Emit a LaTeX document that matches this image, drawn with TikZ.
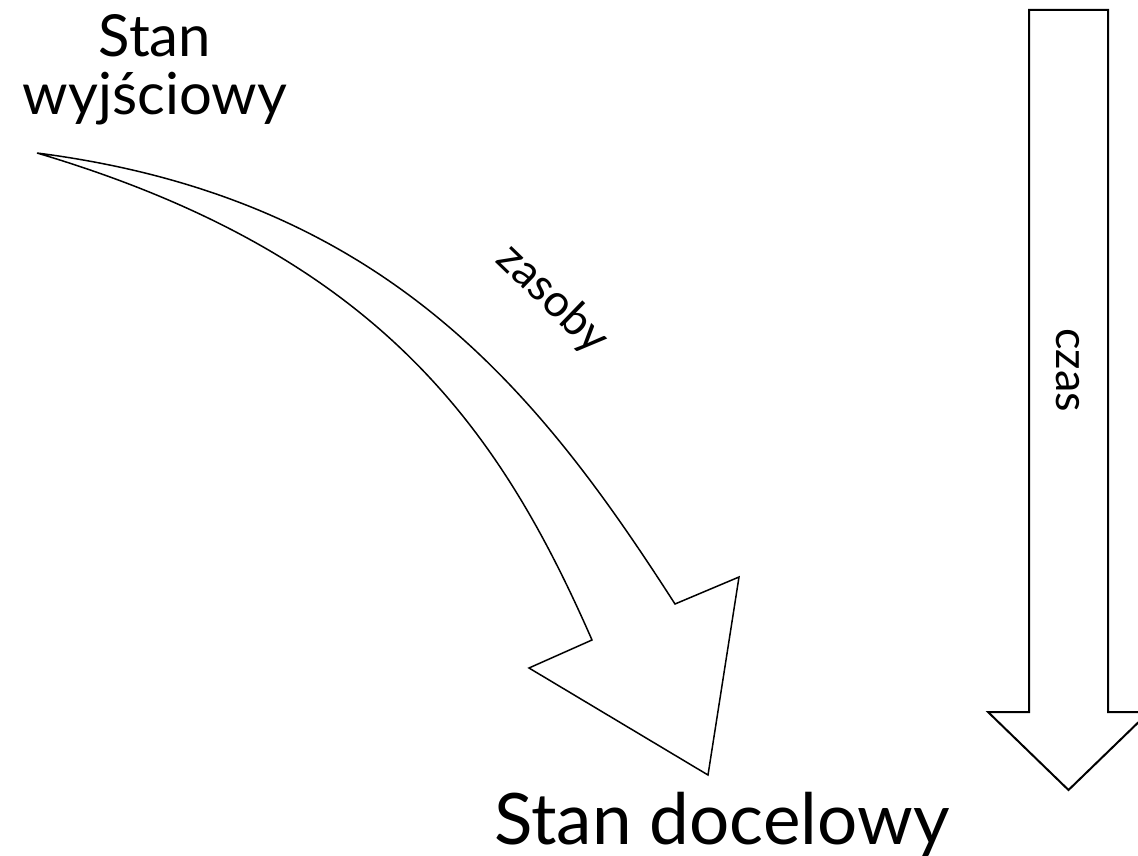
\documentclass[tikz,border=0pt]{standalone}
\usepackage{fontspec}
\setmainfont{Lato}
\begin{document}
\begin{tikzpicture}[x=1pt,y=-1pt,
  bigarrow/.style={draw=black, fill=white, line join=miter},
  label/.style={inner sep=0pt, text=black}]
\useasboundingbox (0,0) rectangle (1138,856);

% curved arrow: upper and lower edges meet in a point at the start
\coordinate (s) at (37,153);
\coordinate (ui) at (675,604);
\coordinate (uw) at (739,577);
\coordinate (tip) at (708,775);
\coordinate (lw) at (529,668);
\coordinate (li) at (592,640);
\draw[bigarrow, line width=1.5pt]
  (s) .. controls (387,198) and (540,394) .. (ui)
  -- (uw) -- (tip) -- (lw) -- (li)
  .. controls (500,430) and (380,255) .. (s) -- cycle;

% straight block arrow pointing down
\draw[bigarrow, line width=2pt]
  (1029,10) -- (1108,10) -- (1108,712) -- (1149,712) -- (1068.5,790)
  -- (988,712) -- (1029,712) -- cycle;

% labels
\node[label, font=\fontsize{58}{58}\selectfont, align=center, anchor=base]
  (start) at (155,115) {Stan\\wyjściowy};
\node[label, font=\fontsize{71}{71}\selectfont, anchor=base]
  (goal) at (722,844) {Stan docelowy};
\node[label, font=\fontsize{45}{45}\selectfont, rotate=-90]
  (time) at (1068,370) {czas};
\node[label, font=\fontsize{45}{45}\selectfont, rotate=-44]
  (res) at (552,299) {zasoby};
\end{tikzpicture}
\end{document}
